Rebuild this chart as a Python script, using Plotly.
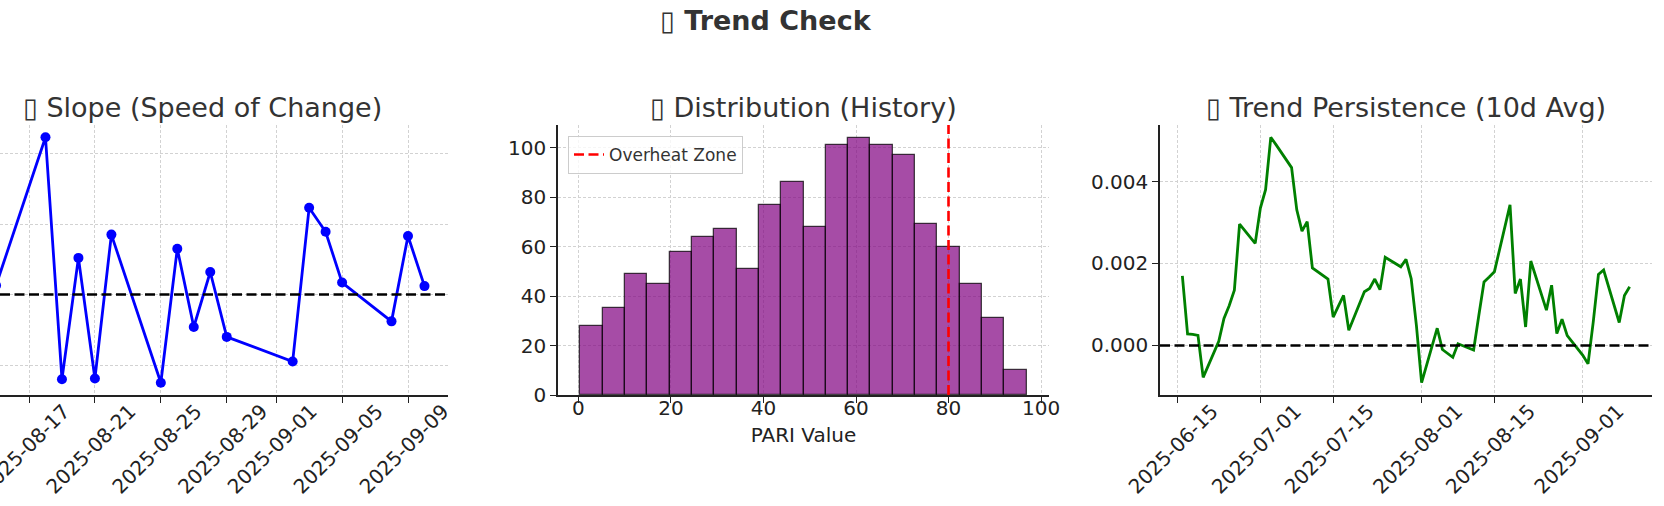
import plotly.graph_objects as go
import pandas as pd

W, H = 1664, 506

# ---------------- data ----------------
slope_dates = ["2025-08-15", "2025-08-18", "2025-08-19", "2025-08-20", "2025-08-21",
               "2025-08-22", "2025-08-25", "2025-08-26", "2025-08-27", "2025-08-28",
               "2025-08-29", "2025-09-02", "2025-09-03", "2025-09-04", "2025-09-05",
               "2025-09-08", "2025-09-09", "2025-09-10"]
slope_values = [0.13, 2.23, -1.20, 0.52, -1.19, 0.85, -1.25, 0.65, -0.46, 0.32,
                -0.60, -0.95, 1.23, 0.89, 0.17, -0.38, 0.83, 0.12]
slope_ticks = ["2025-08-17", "2025-08-21", "2025-08-25", "2025-08-29",
               "2025-09-01", "2025-09-05", "2025-09-09"]

hist_counts = [28, 35, 49, 45, 58, 64, 67, 51, 77, 86, 68, 101, 104, 101, 97, 69, 60, 45, 31, 10]
hist_min, hist_max = 0.4, 96.9
overheat_level = 80

persist_dates = ["2025-06-16", "2025-06-17", "2025-06-18", "2025-06-19", "2025-06-20",
                 "2025-06-23", "2025-06-24", "2025-06-25", "2025-06-26", "2025-06-27",
                 "2025-06-30", "2025-07-01", "2025-07-02", "2025-07-03", "2025-07-04",
                 "2025-07-07", "2025-07-08", "2025-07-09", "2025-07-10", "2025-07-11",
                 "2025-07-14", "2025-07-15", "2025-07-16", "2025-07-17", "2025-07-18",
                 "2025-07-21", "2025-07-22", "2025-07-23", "2025-07-24", "2025-07-25",
                 "2025-07-28", "2025-07-29", "2025-07-30", "2025-07-31", "2025-08-01",
                 "2025-08-04", "2025-08-05", "2025-08-06", "2025-08-07", "2025-08-08",
                 "2025-08-11", "2025-08-12", "2025-08-13", "2025-08-14", "2025-08-15",
                 "2025-08-18", "2025-08-19", "2025-08-20", "2025-08-21", "2025-08-22",
                 "2025-08-25", "2025-08-26", "2025-08-27", "2025-08-28", "2025-08-29",
                 "2025-09-01", "2025-09-02", "2025-09-03", "2025-09-04", "2025-09-05",
                 "2025-09-08", "2025-09-09", "2025-09-10"]
persist_values = [0.00170, 0.00028, 0.00027, 0.000245, -0.00078,
                  0.00010, 0.00066, 0.00097, 0.00135, 0.00296,
                  0.00249, 0.00335, 0.00380, 0.00508, 0.00490,
                  0.00434, 0.00331, 0.00279, 0.00302, 0.00189,
                  0.00162, 0.00069, 0.00096, 0.00122, 0.00037,
                  0.00131, 0.00139, 0.00162, 0.00136, 0.00215,
                  0.00192, 0.00210, 0.00163, 0.00049, -0.00091,
                  0.00042, -0.00010, -0.00019, -0.00029, 0.00004,
                  -0.00011, 0.00073, 0.00155, 0.00167, 0.00180,
                  0.00343, 0.00127, 0.00162, 0.00045, 0.00206,
                  0.00086, 0.00147, 0.00029, 0.00064, 0.00024,
                  -0.00024, -0.00045, 0.00057, 0.00173, 0.00184,
                  0.00056, 0.00122, 0.00143]
persist_ticks = ["2025-06-15", "2025-07-01", "2025-07-15", "2025-08-01", "2025-08-15", "2025-09-01"]

# the source's emoji glyphs were missing and drew as empty boxes
titles = ["\u25AF Slope (Speed of Change)", "\u25AF Distribution (History)",
          "\u25AF Trend Persistence (10d Avg)"]
suptitle = "\u25AF Trend Check"

# ---------------- helpers ----------------
def px(x):
    return x / W

def py(y):
    return 1 - y / H

def pad(lo, hi, f=0.05):
    s = hi - lo
    return [lo - f * s, hi + f * s]

FONT = "DejaVu Sans"
TICKC = "#222222"
GRID = dict(showgrid=True, gridcolor="#d2d2d2", gridwidth=1, griddash="3px,2px")
AXLINE = dict(showline=True, linecolor="#222222", linewidth=1.6, mirror=False, zeroline=False,
              ticks="outside", ticklen=6, tickwidth=1.4, tickcolor="#222222", automargin=False,
              tickfont=dict(family=FONT, size=20, color=TICKC))
DATEAX = dict(type="date", tickformat="%Y-%m-%d", tickangle=-45, ticklabelshift=35,
              ticklabelstandoff=-11, ticklabeloverflow="allow")

ytop, ybot = py(125), py(395)

fig = go.Figure()

# ---- panel 1: slope ----
fig.add_trace(go.Scatter(x=slope_dates, y=slope_values, mode="lines+markers",
                         line=dict(color="#0000ff", width=2.8),
                         marker=dict(color="#0000ff", size=10),
                         xaxis="x", yaxis="y", showlegend=False))

# ---- panel 2: histogram ----
bw = (hist_max - hist_min) / len(hist_counts)
centers = [hist_min + bw * (i + 0.5) for i in range(len(hist_counts))]
fig.add_trace(go.Bar(x=centers, y=hist_counts, width=bw,
                     marker=dict(color="rgba(128,0,128,0.7)",
                                 line=dict(color="rgba(0,0,0,0.7)", width=1.3)),
                     xaxis="x2", yaxis="y2", showlegend=False))

# ---- panel 3: persistence ----
fig.add_trace(go.Scatter(x=persist_dates, y=persist_values, mode="lines",
                         line=dict(color="#008000", width=2.8),
                         xaxis="x3", yaxis="y3", showlegend=False))

# zero lines
for xa, ya in [("x", "y"), ("x3", "y3")]:
    fig.add_shape(type="line", xref=f"{xa} domain", yref=ya, x0=0, x1=1, y0=0, y1=0,
                  line=dict(color="black", width=2.6, dash="10px,4.5px"), layer="above")

# overheat line (legend)
fig.add_shape(type="line", xref="x2", yref="y2 domain", x0=overheat_level, x1=overheat_level,
              y0=0, y1=1, line=dict(color="#ff0000", width=2.6, dash="10px,4.5px"),
              layer="above", showlegend=True, name="Overheat Zone")

# ranges
t0 = pd.Timestamp("2025-08-17")
day_px = (408 - 29) / 23.0
x1_lo = t0 - pd.Timedelta(days=29 / day_px)
x1_hi = pd.Timestamp("2025-09-09") + pd.Timedelta(days=(448 - 408) / day_px)

pd_dates = pd.to_datetime(persist_dates)
span = pd_dates.max() - pd_dates.min()
x3_rng = [pd_dates.min() - span * 0.05, pd_dates.max() + span * 0.05]

fig.update_layout(
    width=W, height=H, margin=dict(l=0, r=0, t=0, b=0, autoexpand=False),
    paper_bgcolor="white", plot_bgcolor="white",
    font=dict(family=FONT, color="#333333"),
    bargap=0,
    xaxis=dict(domain=[0, px(448)], range=[x1_lo, x1_hi], anchor="y",
               tickvals=slope_ticks, **DATEAX, **GRID, **AXLINE),
    yaxis=dict(domain=[ybot, ytop], range=pad(min(slope_values), max(slope_values)), anchor="x",
               dtick=1, showticklabels=False, showline=False, zeroline=False, ticks="",
               automargin=False, **GRID),
    xaxis2=dict(domain=[px(558), px(1049)], range=pad(hist_min, hist_max), anchor="y2",
                dtick=20, tick0=0, ticklabelstandoff=-12,
                title=dict(text="PARI Value", font=dict(family=FONT, size=20, color=TICKC), standoff=9),
                **GRID, **AXLINE),
    yaxis2=dict(domain=[ybot, ytop], range=[0, max(hist_counts) * 1.05], anchor="x2",
                dtick=20, tick0=0, **GRID, **AXLINE),
    xaxis3=dict(domain=[px(1160), px(1652)], range=x3_rng, anchor="y3",
                tickvals=persist_ticks, **DATEAX, **GRID, **AXLINE),
    yaxis3=dict(domain=[ybot, ytop], range=pad(min(persist_values), max(persist_values)),
                anchor="x3", dtick=0.002, tickformat=".3f", **GRID, **AXLINE),
    legend=dict(x=px(568), y=py(136), xanchor="left", yanchor="top",
                bgcolor="rgba(255,255,255,0.8)", bordercolor="#cccccc", borderwidth=1,
                font=dict(family=FONT, size=17, color="#333333")),
)

title_x = [202, 803.5, 1406]
for t, cx in zip(titles, title_x):
    fig.add_annotation(text=t, x=px(cx), y=py(107), xref="paper", yref="paper",
                       xanchor="center", yanchor="middle", showarrow=False,
                       font=dict(family=FONT, size=27, color="#333333"))

fig.add_annotation(text=f"<b>{suptitle}</b>", x=px(766), y=py(21), xref="paper", yref="paper",
                   xanchor="center", yanchor="middle", showarrow=False,
                   font=dict(family=FONT, size=27, color="#333333"))

fig.write_html("out.html", config={"displayModeBar": False},
               post_script="document.body.style.margin='0';")
